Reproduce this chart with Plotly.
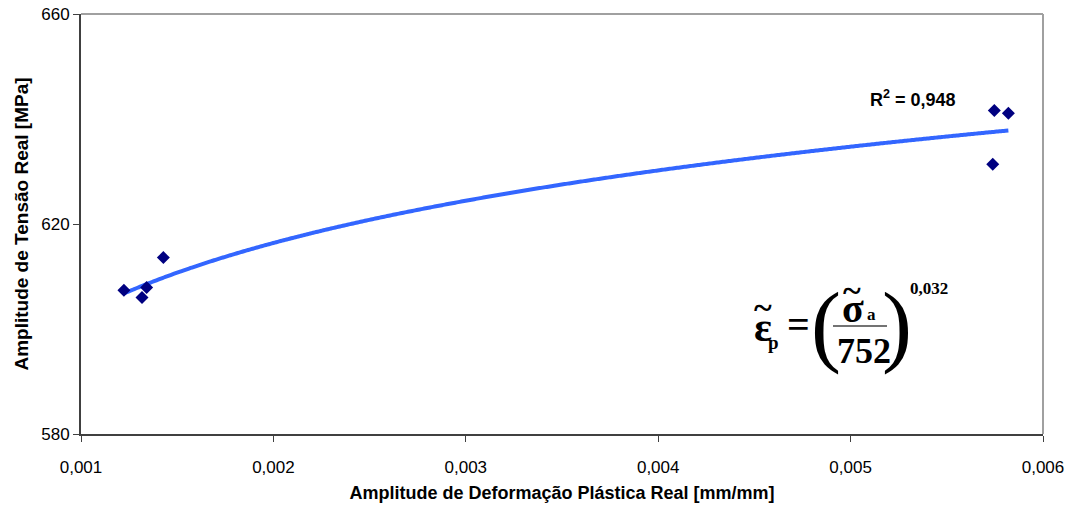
import numpy as np
import plotly.graph_objects as go

# Measured points: true plastic strain amplitude vs true stress amplitude
strain_amp = [0.001223, 0.001317, 0.001341, 0.001428, 0.005747, 0.005820, 0.005739]
stress_amp = [607.4, 606.0, 607.9, 613.6, 641.6, 641.1, 631.4]

# Power-law fit coefficients and its R²
fit_coef = 752
fit_exp = 0.032
r_squared = "0,948"

x_ticks = [0.001, 0.002, 0.003, 0.004, 0.005, 0.006]
y_ticks = [580, 620, 660]

W, H = 1068, 505
L, R, T, B = 81, 25, 14, 71
pw, ph = W - L - R, H - T - B


def px(xp):
    return (xp - L) / pw


def py(yp):
    return (H - B - yp) / ph


fit_x = np.linspace(min(strain_amp), max(strain_amp), 300)
fit_y = fit_coef * fit_x ** fit_exp

fig = go.Figure()
fig.add_trace(go.Scatter(
    x=fit_x, y=fit_y, mode="lines",
    line=dict(color="#3366ff", width=4, shape="spline"), hoverinfo="skip", showlegend=False,
))
fig.add_trace(go.Scatter(
    x=strain_amp, y=stress_amp, mode="markers",
    marker=dict(symbol="diamond", size=10, color="#000080"), showlegend=False,
))

sans = "Arial, Liberation Sans, sans-serif"
serif = "Times New Roman, Liberation Serif, serif"

fig.update_layout(
    width=W, height=H,
    margin=dict(l=L, r=R, t=T, b=B, autoexpand=False),
    paper_bgcolor="white", plot_bgcolor="white",
    separators=",.",
    font=dict(family=sans, size=17, color="black"),
    xaxis=dict(
        range=[0.001, 0.006], tickvals=x_ticks, tickformat=".3f", automargin=False,
        showgrid=False, zeroline=False, showline=True, linecolor="#404040", linewidth=2,
        ticks="outside", ticklen=6, tickcolor="#404040", tickwidth=1, ticklabelstandoff=11,
        title=dict(text="<b>Amplitude de Deformação Plástica Real [mm/mm]</b>",
                   font=dict(size=18), standoff=10),
    ),
    yaxis=dict(
        range=[580, 660], tickvals=y_ticks, automargin=False,
        showgrid=False, zeroline=False, showline=True, linecolor="#404040", linewidth=2,
        ticks="outside", ticklen=6, tickcolor="#404040", tickwidth=1,
        title=dict(text="<b>Amplitude de Tensão Real [MPa]</b>",
                   font=dict(size=19), standoff=8),
    ),
)

# Light frame on top and right
fig.add_shape(type="line", xref="paper", yref="paper", x0=0, x1=1, y0=1, y1=1,
              line=dict(color="#a0a0a0", width=2))
fig.add_shape(type="line", xref="paper", yref="paper", x0=1, x1=1, y0=0, y1=1,
              line=dict(color="#a0a0a0", width=2))

ann = []
ann.append(dict(x=px(913), y=py(99), text=f"<b>R<sup>2</sup> = {r_squared}</b>",
                font=dict(family=sans, size=18)))

# Fit equation
ann.append(dict(x=px(763), y=py(327), text="<b>ε</b>", font=dict(family=serif, size=42)))
ann.append(dict(x=px(763), y=py(307), text="<b>~</b>", font=dict(family=serif, size=34)))
ann.append(dict(x=px(773), y=py(342), text="<b>p</b>", font=dict(family=serif, size=19)))
ann.append(dict(x=px(798), y=py(324), text="<b>=</b>", font=dict(family=serif, size=40)))
ann.append(dict(x=px(826), y=py(325), text="(", font=dict(family=serif, size=90)))
ann.append(dict(x=px(897), y=py(325), text=")", font=dict(family=serif, size=90)))
ann.append(dict(x=px(853), y=py(308), text="<b>σ</b>", font=dict(family=serif, size=40)))
ann.append(dict(x=px(852), y=py(290), text="<b>~</b>", font=dict(family=serif, size=34)))
ann.append(dict(x=px(871), y=py(314), text="<b>a</b>", font=dict(family=serif, size=17)))
ann.append(dict(x=px(864), y=py(351), text=f"<b>{fit_coef}</b>", font=dict(family=serif, size=36)))
ann.append(dict(x=px(929), y=py(288), text="<b>0,032</b>", font=dict(family=serif, size=17)))

for a in ann:
    a.update(xref="paper", yref="paper", showarrow=False, xanchor="center", yanchor="middle")
fig.update_layout(annotations=ann)

fig.add_shape(type="line", xref="paper", yref="paper", x0=px(833), x1=px(887),
              y0=py(326), y1=py(326), line=dict(color="#444444", width=1.5))

fig.write_html("out.html")
